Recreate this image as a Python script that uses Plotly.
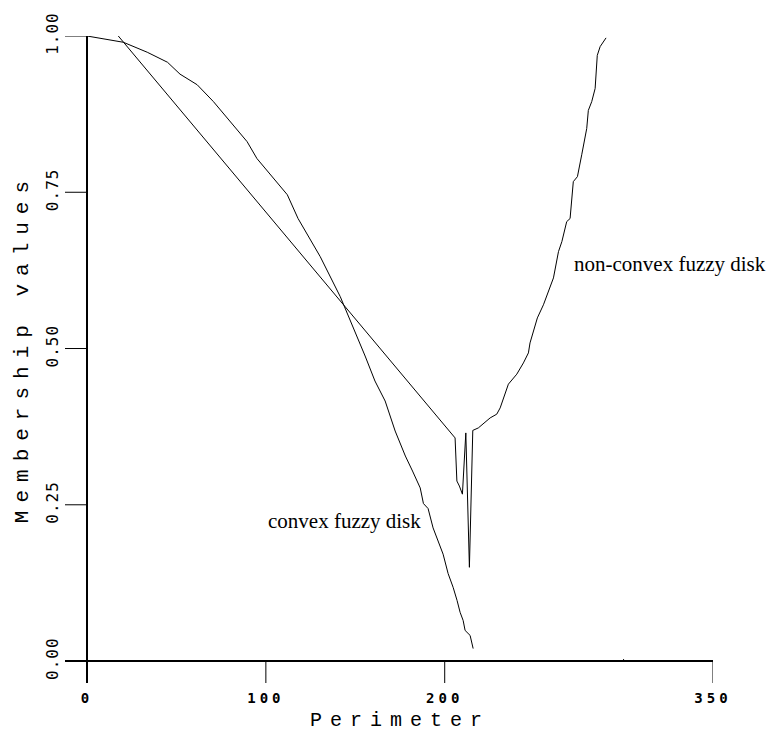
import plotly.graph_objects as go

# Convex fuzzy disk: perimeter vs membership
convex_x = [0, 20.3, 33.7, 45, 52, 61.6, 70.7, 80, 89.5, 95, 104.3, 112, 118,
            130.4, 141.6, 150, 155.5, 161, 166.7, 172.3, 178, 182, 186.3, 188.1, 190.7,
            193.5, 199.1, 201.9, 204.7, 206.9, 208.6, 210.3, 211.4, 214.2, 215.9]
convex_y = [1.0, 0.990, 0.974, 0.958, 0.939, 0.922, 0.895, 0.863, 0.831, 0.804, 0.772,
            0.746, 0.708, 0.647, 0.583, 0.527, 0.488, 0.448, 0.416, 0.368, 0.328,
            0.304, 0.277, 0.252, 0.244, 0.213, 0.171, 0.140, 0.118, 0.097, 0.078, 0.065,
            0.049, 0.041, 0.020]

# Non-convex fuzzy disk
nonconvex_x = [17.5, 205.8, 206.8, 208.2, 209.9, 211.8, 213.8, 215.7, 218.8, 225.4, 229.1,
               231.0, 235.6, 240.3, 244.0, 246.8, 247.7, 249.6, 251.8, 255.2, 258.0, 260.8,
               263.6, 265.5, 268.2, 270.1, 271.9, 274.2, 276.6, 279.4, 280.3, 282.2, 284.1,
               285.3, 286.9, 290.2]
nonconvex_y = [1.0, 0.357, 0.288, 0.280, 0.267, 0.365, 0.150, 0.369, 0.373, 0.389, 0.395,
               0.405, 0.443, 0.459, 0.477, 0.493, 0.509, 0.528, 0.549, 0.570, 0.592, 0.613,
               0.655, 0.671, 0.703, 0.708, 0.767, 0.775, 0.810, 0.852, 0.881, 0.895, 0.916,
               0.969, 0.983, 0.997]

x_tickvals = [0, 100, 200, 350]
x_ticklabels = ["0", "100", "200", "350"]
x_minor_tickvals = [300]
y_tickvals = [0, 0.25, 0.5, 0.75, 1.0]
y_ticklabels = ["0.00", "0.25", "0.50", "0.75", "1.00"]

x_title = "Perimeter"
y_title = "Membership values"
label_convex = "convex fuzzy disk"
label_nonconvex = "non-convex fuzzy disk"

W, H = 778, 733
# axes cross at the origin; the plotting box also holds the outward ticks
TICKLEN = 22
ORIGIN_X, RIGHT_X = 87, 713      # pixel position of x = 0 and x = 350
ORIGIN_Y, TOP_Y = 660.7, 34      # pixel position of y = 0 and y = 1
x_scale = (RIGHT_X - ORIGIN_X) / 350.0
y_scale = (ORIGIN_Y - TOP_Y) / 1.0
x_range = [-TICKLEN / x_scale, 350]
y_range = [-TICKLEN / y_scale, 1]
ML = ORIGIN_X - TICKLEN
MB = H - (ORIGIN_Y + TICKLEN)
MT = TOP_Y
MR = W - RIGHT_X
PW, PH = W - ML - MR, H - MT - MB

fig = go.Figure()
fig.add_trace(go.Scatter(x=convex_x, y=convex_y, mode="lines",
                         line=dict(color="black", width=1), showlegend=False))
fig.add_trace(go.Scatter(x=nonconvex_x, y=nonconvex_y, mode="lines",
                         line=dict(color="black", width=1), showlegend=False))

# tick marks, drawn from the tick values inside the plotting box
shapes = []
for v in x_tickvals:
    shapes.append(dict(type="line", xref="x", yref="y", x0=v, x1=v,
                       y0=y_range[0], y1=0, line=dict(color="black", width=1)))
for v in x_minor_tickvals:
    shapes.append(dict(type="line", xref="x", yref="y", x0=v, x1=v,
                       y0=0, y1=2 / y_scale, line=dict(color="black", width=1)))
for v in y_tickvals:
    shapes.append(dict(type="line", xref="x", yref="y", x0=x_range[0], x1=0,
                       y0=v, y1=v, line=dict(color="black", width=1)))

tick_font = dict(family="DejaVu Sans Mono", size=14, color="black", weight="bold")

fig.update_layout(
    width=W, height=H,
    margin=dict(l=ML, r=MR, t=MT, b=MB),
    paper_bgcolor="white", plot_bgcolor="white",
    shapes=shapes,
    xaxis=dict(
        range=x_range, showgrid=False, showline=False,
        zeroline=True, zerolinecolor="black", zerolinewidth=1.5,
        ticks="", tickvals=x_tickvals,
        ticktext=['<span style="letter-spacing:4px">%s</span>' % t for t in x_ticklabels],
        tickfont=tick_font, ticklabelstandoff=5,
    ),
    yaxis=dict(
        range=y_range, showgrid=False, showline=False,
        zeroline=True, zerolinecolor="black", zerolinewidth=1.3,
        ticks="", tickvals=y_tickvals,
        ticktext=['<span style="letter-spacing:1px">%s</span>' % t for t in y_ticklabels],
        tickfont=dict(family="DejaVu Sans Mono", size=16, color="black"),
        tickangle=-90, ticklabelstandoff=3,
    ),
    annotations=[
        dict(text='<span style="letter-spacing:8px">%s</span>' % x_title,
             xref="paper", yref="paper", x=(400 - ML) / PW, y=-MB / PH,
             xanchor="center", yanchor="bottom", showarrow=False, borderpad=0,
             font=dict(family="Liberation Mono", size=20, color="black")),
        dict(text='<span style="letter-spacing:8px">%s</span>' % y_title,
             xref="paper", yref="paper", x=(22 - ML) / PW, y=(H - MB - 347) / PH,
             textangle=-90, xanchor="center", yanchor="middle", showarrow=False,
             font=dict(family="Liberation Mono", size=21, color="black")),
        dict(text=label_convex, x=144.1, y=0.2245, xref="x", yref="y",
             xanchor="center", yanchor="middle", showarrow=False,
             font=dict(family="Liberation Serif", size=21, color="black")),
        dict(text=label_nonconvex, x=326, y=0.636, xref="x", yref="y",
             xanchor="center", yanchor="middle", showarrow=False,
             font=dict(family="Liberation Serif", size=21, color="black")),
    ],
)

fig.write_html("out.html", config={"staticPlot": True})
